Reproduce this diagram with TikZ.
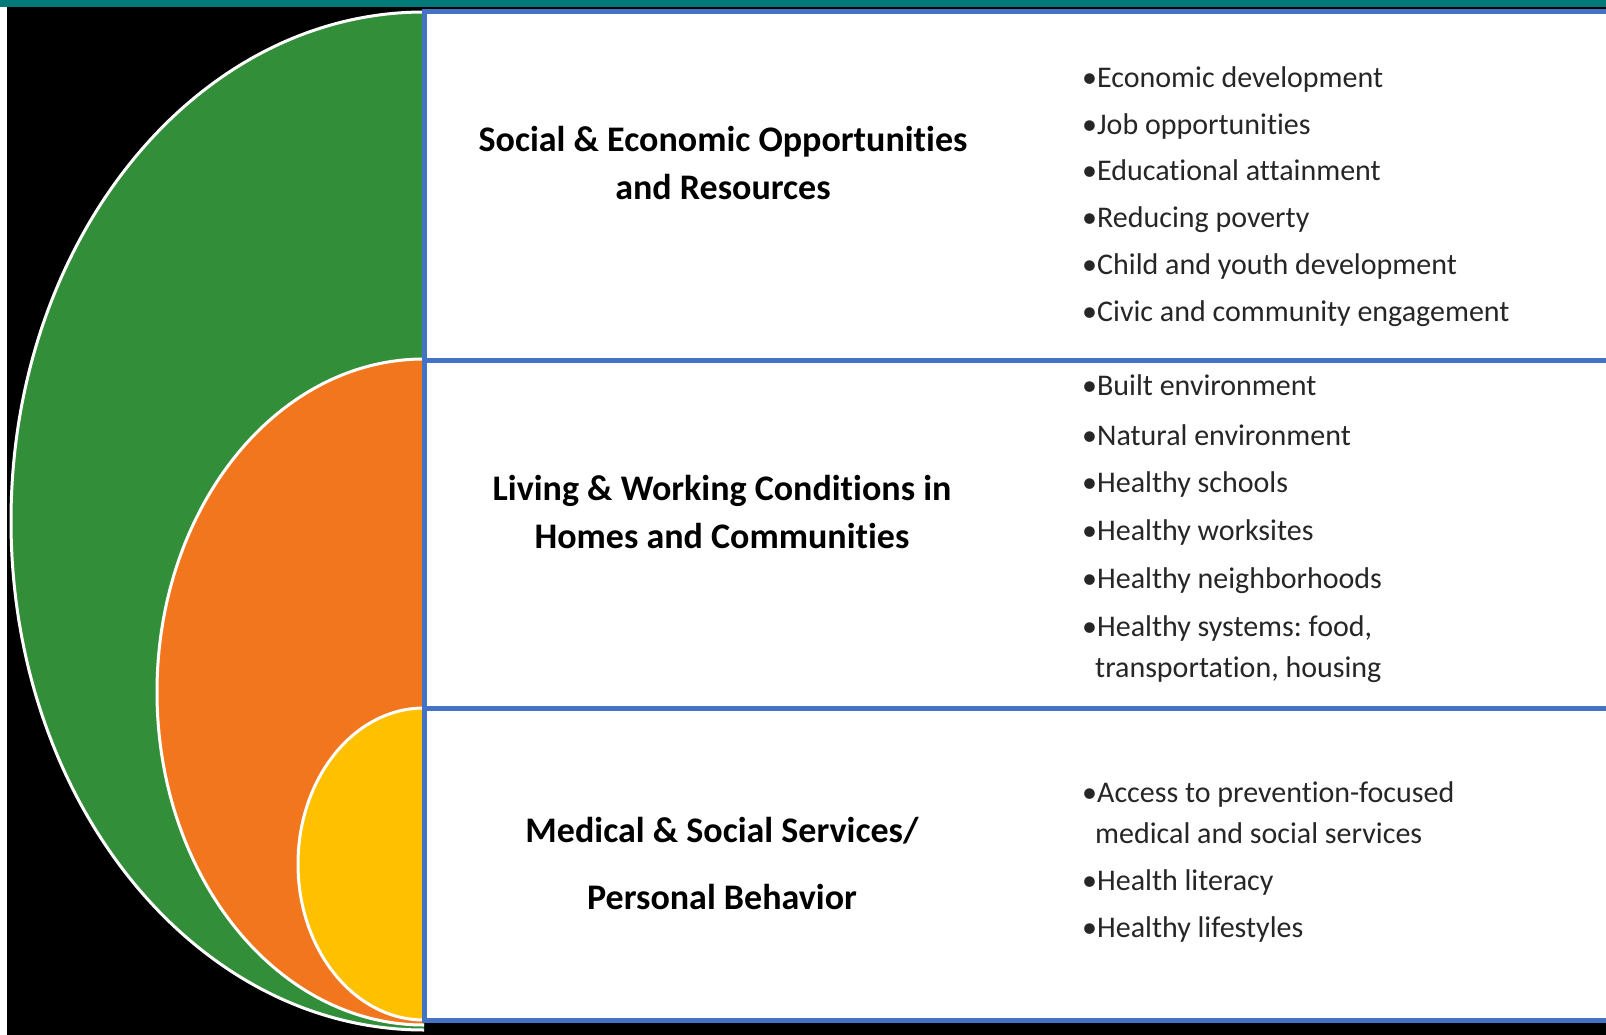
\documentclass[tikz,border=0pt]{standalone}
\usepackage{fontspec}
\setmainfont[Ligatures={NoCommon}]{Carlito}
\usepackage{xcolor}
\usetikzlibrary{positioning}

\definecolor{ringgreen}{RGB}{51,142,57}
\definecolor{ringorange}{RGB}{242,118,30}
\definecolor{ringyellow}{RGB}{255,192,0}
\definecolor{rowblue}{RGB}{68,114,196}
\definecolor{barteal}{RGB}{0,122,120}

\begin{document}
\frenchspacing
\begin{tikzpicture}[x=1pt, y=-1pt,
        ring/.style={draw=white, line width=3pt},
        rowline/.style={rowblue, line width=5pt},
        heading/.style={font=\fontsize{36}{48}\selectfont\bfseries, align=center, text=black},
        item/.style={font=\fontsize{30}{36}\selectfont, anchor=base west, inner sep=0pt, text=black!85}]
        \useasboundingbox (0,0) rectangle (1606,1035);

        % Backdrop and top bar
        \fill[black] (7,7) rectangle (1606,1035);
        \fill[barteal] (0,0) rectangle (1606,7);

        % Row corners
        \coordinate (tl) at (424,12);
        \coordinate (tr) at (1606,12);
        \coordinate (ml) at (424,360);
        \coordinate (mr) at (1606,360);
        \coordinate (nl) at (424,708);
        \coordinate (nr) at (1606,708);
        \coordinate (bl) at (424,1020);
        \coordinate (br) at (1606,1020);

        % Half rings
        \begin{scope}
            \clip (0,0) rectangle (424,1035);
            \filldraw[ring, fill=ringgreen] (424,521) ellipse [x radius=413, y radius=509];
            \filldraw[ring, fill=ringorange] (424,692) ellipse [x radius=267, y radius=333];
            \filldraw[ring, fill=ringyellow] (424,864) ellipse [x radius=126, y radius=156];
        \end{scope}

        % Table
        \fill[white] (tl) rectangle (br);
        \draw[rowline] (tr)--(tl)--(bl)--(br); % Outer frame
        \draw[rowline] (ml)--(mr);
        \draw[rowline] (nl)--(nr);

        % Row headings
        \node[heading] (soc) at (723,163) {Social \& Economic Opportunities\\and Resources};
        \node[heading] (liv) at (722,512) {Living \& Working Conditions in\\Homes and Communities};
        \node[heading] (med) at (722,863) {Medical \& Social Services/\\[19pt]Personal Behavior};

        % Bullet lists
        \foreach \txt/\yy [count=\i] in {Economic development/88, Job opportunities/135, Educational attainment/181,
                Reducing poverty/228, Child and youth development/274, Civic and community engagement/321}
            \node[item] (soc\i) at (1082,\yy) {•\txt};
        \foreach \txt/\yy [count=\i] in {Built environment/395, Natural environment/445, Healthy schools/492,
                Healthy worksites/540, Healthy neighborhoods/588, {Healthy systems: food,}/636}
            \node[item] (liv\i) at (1082,\yy) {•\txt};
        \node[item] (liv7) at (1095,677) {transportation, housing};
        \foreach \txt/\yy [count=\i] in {Access to prevention-focused/802, Health literacy/890, Healthy lifestyles/937}
            \node[item] (med\i) at (1082,\yy) {•\txt};
        \node[item] (med4) at (1095,843) {medical and social services};
\end{tikzpicture}
\end{document}
